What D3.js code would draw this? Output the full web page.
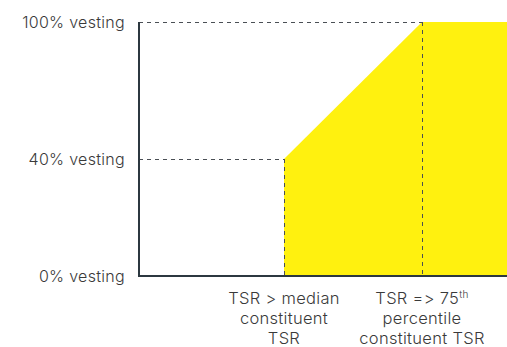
<!DOCTYPE html>
<html>
<head>
<meta charset="utf-8">
<script src="https://cdn.jsdelivr.net/npm/d3@7"></script>
<style>
  html, body { margin: 0; padding: 0; background: #fff; }
  svg { display: block; }
  text {
    font-family: Inter, "Open Sans", sans-serif;
    font-weight: 300;
    fill: #3a3a3a;
    font-variant-ligatures: none;
    font-feature-settings: "liga" 0, "calt" 0;
    letter-spacing: 0.3px;
  }
</style>
</head>
<body>
<svg id="chart" width="507" height="347"></svg>
<script>
// Vesting schedule: TSR percentile ranking vs. share of award vesting
const tsrPercentile = [50, 75, 100];   // threshold, maximum, end of range
const vestingPct    = [40, 100, 100];  // % vesting at each point

const yTickValues = [0, 40, 100];
const yTickLabels = ["0% vesting", "40% vesting", "100% vesting"];

const xTickValues = [50, 75];
const xTickLabels = [
  [["TSR > median"], ["constituent"], ["TSR"]],
  [["TSR => 75", "th"], ["percentile"], ["constituent TSR"]]
];

const svg = d3.select("#chart");

// Schematic (not proportional) scales
const x = d3.scaleLinear().domain([0, 50, 75, 100]).range([139, 284, 422, 507]);
const y = d3.scaleLinear().domain([0, 40, 100]).range([276, 159, 22]);

const points = tsrPercentile.map((p, i) => ({ p, v: vestingPct[i] }));

// Filled vesting region
const area = d3.area()
  .x(d => x(d.p))
  .y0(y(0))
  .y1(d => y(d.v));
svg.append("path")
  .datum(points)
  .attr("d", area)
  .attr("fill", "#fff10f");

// Dashed guide lines from the axis to each threshold
const guides = [{ p: 50, v: 40 }, { p: 75, v: 100 }];
const dash = svg.append("g")
  .attr("stroke", "#4a4f55")
  .attr("stroke-width", 1)
  .attr("stroke-dasharray", "4,4")
  .attr("fill", "none");
guides.forEach(g => {
  dash.append("line")
    .attr("x1", x(0)).attr("x2", x(g.p))
    .attr("y1", y(g.v) + 0.5).attr("y2", y(g.v) + 0.5);
  dash.append("line")
    .attr("x1", x(g.p) + 0.5).attr("x2", x(g.p) + 0.5)
    .attr("y1", y(g.v)).attr("y2", y(0));
});

// Axes
const axisColor = "#2c3840";
svg.append("line")
  .attr("x1", x(0)).attr("x2", x(0))
  .attr("y1", y(100)).attr("y2", y(0) + 1)
  .attr("stroke", axisColor).attr("stroke-width", 2);
svg.append("line")
  .attr("x1", x(0) - 1).attr("x2", x(100))
  .attr("y1", y(0)).attr("y2", y(0))
  .attr("stroke", axisColor).attr("stroke-width", 2);

// Y labels
svg.append("g").selectAll("text")
  .data(yTickValues)
  .join("text")
  .attr("x", 125)
  .attr("y", d => y(d))
  .attr("dy", "0.35em")
  .attr("text-anchor", "end")
  .attr("font-size", 16)
  .text((d, i) => yTickLabels[i]);

// X labels (multi-line, centred under each threshold)
xTickValues.forEach((p, i) => {
  const t = svg.append("text")
    .attr("text-anchor", "middle")
    .attr("font-size", 16.5);
  xTickLabels[i].forEach((line, j) => {
    const ts = t.append("tspan")
      .attr("x", x(p))
      .attr("y", 304 + j * 20);
    ts.text(line[0]);
    if (line[1]) {
      t.append("tspan")
        .attr("dy", -6)
        .attr("font-size", 10)
        .text(line[1]);
    }
  });
});
</script>
</body>
</html>
